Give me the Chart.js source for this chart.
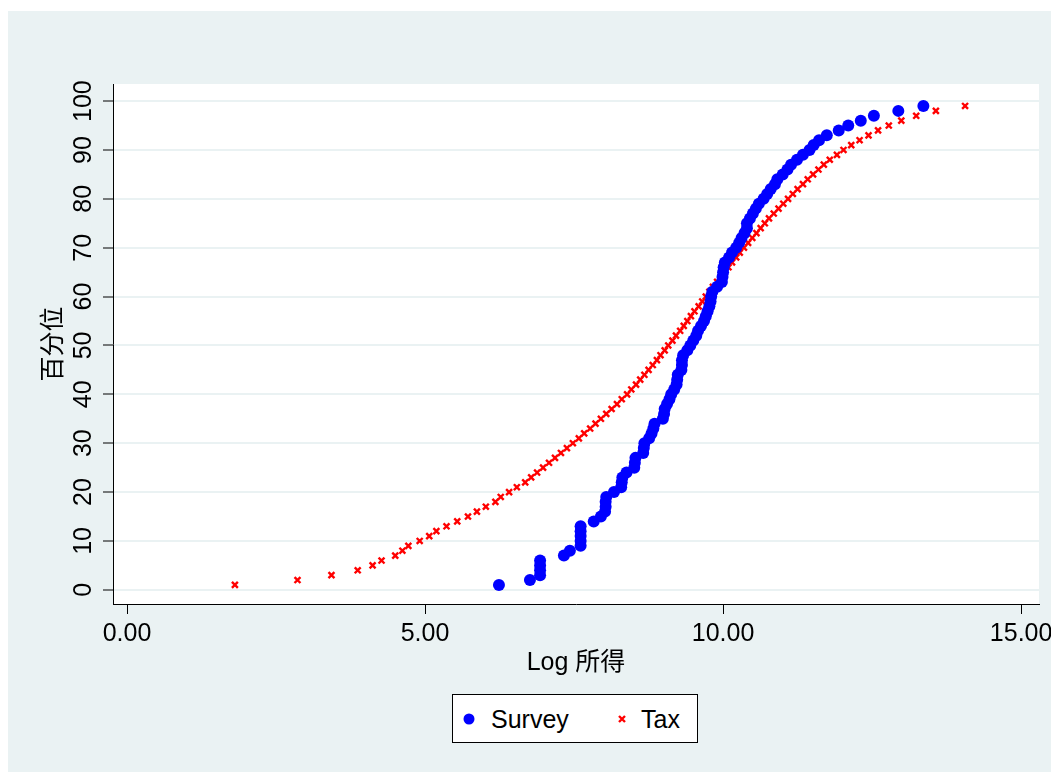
<!DOCTYPE html>
<html>
<head>
<meta charset="utf-8">
<script src="https://cdn.jsdelivr.net/npm/chart.js@4/dist/chart.umd.min.js"></script>
<style>
  body { margin: 0; background: #fff; }
  #wrap { position: relative; width: 1051px; height: 772px; }
  #legend {
    position: absolute; left: 452px; top: 694px; width: 244px; height: 47px;
    border: 1px solid #000; background: #fff;
    font-family: "Liberation Sans", Arial, sans-serif; font-size: 25px; color: #000;
  }
  #legend span { position: absolute; top: 9px; line-height: 30px; }
  #legend svg { position: absolute; }
</style>
</head>
<body>
<div id="wrap">
  <canvas id="myChart" width="1051" height="772"></canvas>
  <div id="legend">
    <svg style="left:9px;top:17px" width="14" height="14"><circle cx="7" cy="7" r="5.5" fill="#0000ff"/></svg>
    <span style="left:38px">Survey</span>
    <svg style="left:164px;top:19px" width="10" height="10"><path d="M2 2L8 8M8 2L2 8" stroke="#ff0000" stroke-width="2.4"/></svg>
    <span style="left:188px">Tax</span>
  </div>
</div>
<script>
// percentile ranks (y)
var percentiles = [1, 2, 3, 4, 5, 6, 7, 8, 9, 10, 11, 12, 13, 14, 15, 16, 17, 18, 19, 20,
    21, 22, 23, 24, 25, 26, 27, 28, 29, 30, 31, 32, 33, 34, 35, 36, 37, 38, 39, 40,
    41, 42, 43, 44, 45, 46, 47, 48, 49, 50, 51, 52, 53, 54, 55, 56, 57, 58, 59, 60,
    61, 62, 63, 64, 65, 66, 67, 68, 69, 70, 71, 72, 73, 74, 75, 76, 77, 78, 79, 80,
    81, 82, 83, 84, 85, 86, 87, 88, 89, 90, 91, 92, 93, 94, 95, 96, 97, 98, 99];

// log income, survey data
var surveyLog = [6.24, 6.76, 6.93, 6.93, 6.93, 6.93, 7.33, 7.43, 7.61, 7.61,
    7.61, 7.61, 7.61, 7.83, 7.95, 8.02, 8.03, 8.03, 8.04, 8.17,
    8.29, 8.30, 8.31, 8.38, 8.51, 8.52, 8.53, 8.66, 8.67, 8.68,
    8.76, 8.80, 8.83, 8.85, 8.99, 9.01, 9.02, 9.06, 9.10, 9.13,
    9.18, 9.22, 9.23, 9.24, 9.30, 9.31, 9.31, 9.33, 9.40, 9.45,
    9.50, 9.55, 9.58, 9.63, 9.68, 9.71, 9.74, 9.77, 9.79, 9.80,
    9.82, 9.90, 9.98, 9.99, 10.00, 10.01, 10.03, 10.10, 10.15, 10.22,
    10.27, 10.31, 10.36, 10.40, 10.40, 10.45, 10.50, 10.55, 10.60, 10.68,
    10.74, 10.80, 10.87, 10.91, 11.00, 11.08, 11.14, 11.24, 11.34, 11.45,
    11.52, 11.61, 11.74, 11.94, 12.10, 12.31, 12.53, 12.94, 13.36];

// log income, tax data
var taxLog = [1.81, 2.86, 3.43, 3.87, 4.12, 4.27, 4.50, 4.62, 4.72, 4.91,
    5.07, 5.19, 5.36, 5.54, 5.72, 5.87, 6.02, 6.18, 6.27, 6.41,
    6.54, 6.68, 6.78, 6.88, 6.98, 7.08, 7.18, 7.28, 7.38, 7.48,
    7.58, 7.67, 7.77, 7.86, 7.95, 8.04, 8.13, 8.22, 8.30, 8.39,
    8.46, 8.54, 8.61, 8.68, 8.75, 8.82, 8.89, 8.95, 9.02, 9.08,
    9.15, 9.21, 9.28, 9.34, 9.40, 9.46, 9.52, 9.59, 9.65, 9.71,
    9.77, 9.83, 9.90, 9.96, 10.02, 10.09, 10.15, 10.22, 10.28, 10.35,
    10.42, 10.49, 10.56, 10.63, 10.70, 10.77, 10.85, 10.93, 11.01, 11.09,
    11.17, 11.25, 11.34, 11.42, 11.51, 11.60, 11.69, 11.79, 11.91, 12.02,
    12.15, 12.29, 12.44, 12.60, 12.78, 12.99, 13.24, 13.57, 14.06];

var xTicks = [0, 5, 10, 15];
var yTicks = [0, 10, 20, 30, 40, 50, 60, 70, 80, 90, 100];

var FONT = '"Liberation Sans", Arial, "Noto Sans CJK SC", sans-serif';
var panelColor = '#eaf2f3';

function toPoints(xs) {
    var pts = [];
    for (var i = 0; i < xs.length; i++) {
        pts.push({ x: xs[i], y: percentiles[i] });
    }
    return pts;
}

// background panel, plot region, rotated y labels and title
var stataLook = {
    id: 'stataLook',
    beforeDraw: function (chart) {
        var ctx = chart.ctx, a = chart.chartArea;
        ctx.save();
        ctx.fillStyle = '#fff';
        ctx.fillRect(0, 0, chart.width, chart.height);
        ctx.fillStyle = panelColor;
        ctx.fillRect(8, 11, chart.width - 8, chart.height - 11);
        ctx.fillStyle = '#fff';
        ctx.fillRect(a.left, a.top, a.right - a.left, a.bottom - a.top);
        ctx.restore();
    },
    afterDraw: function (chart) {
        var ctx = chart.ctx, y = chart.scales.y, a = chart.chartArea;
        ctx.save();
        ctx.fillStyle = '#000';
        ctx.textAlign = 'center';
        ctx.textBaseline = 'middle';
        ctx.font = '25px ' + FONT;
        yTicks.forEach(function (v) {
            ctx.save();
            ctx.translate(84, y.getPixelForValue(v));
            ctx.rotate(-Math.PI / 2);
            ctx.fillText(String(v), 0, 0);
            ctx.restore();
        });
        ctx.translate(54, (a.top + a.bottom) / 2);
        ctx.rotate(-Math.PI / 2);
        ctx.fillText('百分位', 0, 0);
        ctx.restore();
    }
};

var ctx = document.getElementById('myChart').getContext('2d');
var myChart = new Chart(ctx, {
    type: 'scatter',
    data: {
        datasets: [{
            label: 'Survey',
            data: toPoints(surveyLog),
            pointStyle: 'circle',
            pointRadius: 6,
            backgroundColor: '#0000ff',
            borderColor: '#0000ff',
            borderWidth: 0
        }, {
            label: 'Tax',
            data: toPoints(taxLog),
            pointStyle: 'crossRot',
            pointRadius: 4.2,
            borderColor: '#ff0000',
            backgroundColor: '#ff0000',
            borderWidth: 2.4
        }]
    },
    options: {
        responsive: false,
        animation: false,
        layout: { padding: { top: 84, right: 12, left: 0, bottom: 0 } },
        plugins: {
            legend: { display: false },
            tooltip: { enabled: false }
        },
        scales: {
            x: {
                type: 'linear',
                min: -0.235,
                max: 15.3,
                afterBuildTicks: function (scale) {
                    scale.ticks = xTicks.map(function (v) { return { value: v }; });
                },
                afterFit: function (scale) {
                    scale.height = 168;
                    scale.paddingLeft = 0;
                    scale.paddingRight = 0;
                },
                ticks: {
                    color: '#000',
                    padding: 5,
                    maxRotation: 0,
                    autoSkip: false,
                    font: { family: FONT, size: 25 },
                    callback: function (v) { return v.toFixed(2); }
                },
                grid: { drawOnChartArea: false, tickLength: 10, tickColor: '#000', tickWidth: 1 },
                border: { color: '#000', width: 1 },
                title: {
                    display: true,
                    text: 'Log 所得',
                    color: '#000',
                    font: { family: FONT, size: 25 },
                    padding: { top: 0, bottom: 94 }
                }
            },
            y: {
                type: 'linear',
                min: -2.9,
                max: 103.5,
                afterBuildTicks: function (scale) {
                    scale.ticks = yTicks.map(function (v) { return { value: v }; });
                },
                afterFit: function (scale) { scale.width = 113; },
                ticks: { display: false },
                grid: { color: panelColor, lineWidth: 2, tickLength: 10, tickColor: '#000', tickWidth: 1 },
                border: { color: '#000', width: 1 }
            }
        }
    },
    plugins: [stataLook]
});
</script>
</body>
</html>
